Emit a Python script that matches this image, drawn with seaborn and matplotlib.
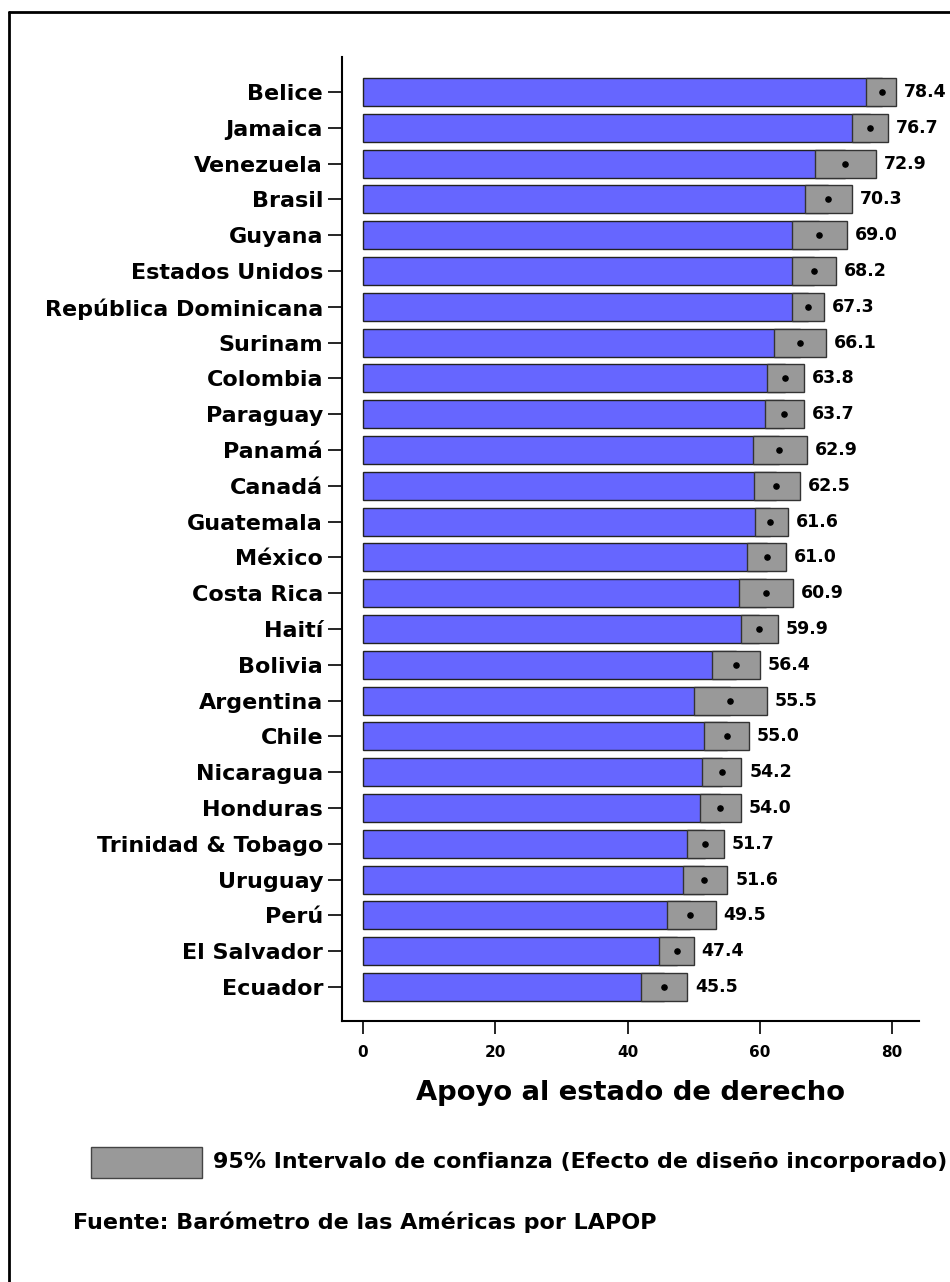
import pandas as pd
import matplotlib.pyplot as plt
import seaborn as sns
from matplotlib.patches import Rectangle
from matplotlib.lines import Line2D

sns.set_style('ticks')
plt.rcParams['font.family'] = ['DejaVu Sans']
plt.rcParams['font.weight'] = 'bold'
plt.rcParams['text.color'] = 'black'
plt.rcParams['axes.labelcolor'] = 'black'
plt.rcParams['axes.edgecolor'] = 'black'
plt.rcParams['xtick.color'] = 'black'
plt.rcParams['ytick.color'] = 'black'

paises = ['Belice', 'Jamaica', 'Venezuela', 'Brasil', 'Guyana', 'Estados Unidos',
          'República Dominicana', 'Surinam', 'Colombia', 'Paraguay', 'Panamá', 'Canadá',
          'Guatemala', 'México', 'Costa Rica', 'Haití', 'Bolivia', 'Argentina', 'Chile',
          'Nicaragua', 'Honduras', 'Trinidad & Tobago', 'Uruguay', 'Perú', 'El Salvador',
          'Ecuador']
valores = [78.4, 76.7, 72.9, 70.3, 69.0, 68.2, 67.3, 66.1, 63.8, 63.7, 62.9, 62.5,
           61.6, 61.0, 60.9, 59.9, 56.4, 55.5, 55.0, 54.2, 54.0, 51.7, 51.6, 49.5,
           47.4, 45.5]
ic_bajo = [76.1, 73.9, 68.3, 66.8, 64.9, 64.8, 64.8, 62.1, 61.1, 60.7, 58.9, 59.1,
           59.2, 58.0, 56.8, 57.2, 52.8, 50.1, 51.6, 51.3, 51.0, 49.0, 48.4, 45.9,
           44.8, 42.0]
ic_alto = [80.6, 79.4, 77.5, 73.9, 73.2, 71.5, 69.7, 70.0, 66.6, 66.7, 67.1, 66.0,
           64.2, 64.0, 65.0, 62.7, 60.0, 61.0, 58.3, 57.2, 57.1, 54.5, 55.1, 53.3,
           50.0, 49.0]

df = pd.DataFrame({'pais': paises, 'valor': valores, 'bajo': ic_bajo, 'alto': ic_alto})
df['pos'] = range(len(df))

fig = plt.figure(figsize=(9.5, 12.82), dpi=100)
ax = fig.add_axes([0.3605, 0.2036, 0.6065, 0.752])

sns.barplot(data=df, x='valor', y='pais', orient='h', color='#6666ff', saturation=1,
            edgecolor='#222222', linewidth=1, width=0.78, ax=ax)
ax.barh(df['pos'], df['alto'] - df['bajo'], left=df['bajo'], height=0.78,
        color='#999999', edgecolor='#333333', linewidth=1, zorder=3)
ax.scatter(df['valor'], df['pos'], s=14, color='black', zorder=5)

for _, r in df.iterrows():
    ax.text(r['alto'] + 1.2, r['pos'], f"{r['valor']:.1f}", va='center', ha='left',
            fontsize=12.5, fontweight='bold')

ax.set_xlim(-3.1, 84)
ax.set_ylim(25.95, -0.98)
ax.set_xticks([0, 20, 40, 60, 80])
ax.tick_params(axis='x', length=9.5, width=1.2, pad=8, labelsize=11)
ax.tick_params(axis='y', length=10, width=1.2, pad=4, labelsize=16)
for lab in ax.get_xticklabels() + ax.get_yticklabels():
    lab.set_fontweight('bold')
sns.despine(ax=ax)
ax.spines['left'].set_linewidth(1.5)
ax.spines['bottom'].set_linewidth(1.5)
ax.set_ylabel('')
ax.set_xlabel('Apoyo al estado de derecho', fontsize=19.7, fontweight='bold', labelpad=14)

# leyenda y fuente
fig.patches.append(Rectangle((91 / 950, 1 - 1178 / 1282), 111 / 950, 31 / 1282,
                             transform=fig.transFigure, facecolor='#999999',
                             edgecolor='#444444', linewidth=1))
fig.text(213 / 950, 1 - 1162 / 1282, '95% Intervalo de confianza (Efecto de diseño incorporado)',
         fontsize=15.9, fontweight='bold', va='center', ha='left')
fig.text(73 / 950, 1 - 1222 / 1282, 'Fuente: Barómetro de las Américas por LAPOP',
         fontsize=16, fontweight='bold', va='center', ha='left')

# marco
fig.add_artist(Line2D([9 / 950, 9 / 950], [0, 1 - 12 / 1282], transform=fig.transFigure,
                      color='black', linewidth=2))
fig.add_artist(Line2D([9 / 950, 1], [1 - 12 / 1282, 1 - 12 / 1282], transform=fig.transFigure,
                      color='black', linewidth=2))

fig.savefig('out.png', dpi=100)
